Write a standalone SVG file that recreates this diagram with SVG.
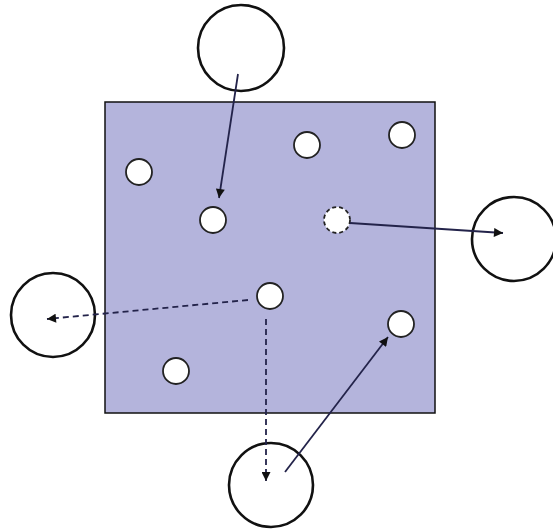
<svg xmlns="http://www.w3.org/2000/svg" width="553" height="529" viewBox="0 0 553 529">
<style>
.big{fill:#fff;stroke:#111;stroke-width:2.6}
.small{fill:#fff;stroke:#222;stroke-width:1.8}
.dash{stroke-dasharray:4,3}
.conn{stroke:#23234a;stroke-width:1.8;fill:none}
.dline{stroke-dasharray:6,4}
</style>
<defs>
<marker id="ah" viewBox="0 0 10 10" refX="10" refY="5" markerWidth="11" markerHeight="9" markerUnits="userSpaceOnUse" orient="auto">
<path d="M0,0 L10,5 L0,10 z" fill="#111"/>
</marker>
</defs>
<rect id="region" x="105" y="102" width="330" height="311" fill="#b4b4dc" stroke="#111" stroke-width="1.5"/>
<g id="node-top"><circle class="big" cx="241" cy="48" r="43"/></g>
<g id="node-right"><circle class="big" cx="514" cy="239" r="42"/></g>
<g id="node-left"><circle class="big" cx="53" cy="315" r="42"/></g>
<g id="node-bottom"><circle class="big" cx="271" cy="485" r="42"/></g>
<g id="p1"><circle class="small" cx="139" cy="172" r="13"/></g>
<g id="p2"><circle class="small" cx="307" cy="145" r="13"/></g>
<g id="p3"><circle class="small" cx="402" cy="135" r="13"/></g>
<g id="p4"><circle class="small" cx="213" cy="220" r="13"/></g>
<g id="p5"><circle class="small dash" cx="337" cy="220" r="13"/></g>
<g id="p6"><circle class="small" cx="270" cy="296" r="13"/></g>
<g id="p7"><circle class="small" cx="401" cy="324" r="13"/></g>
<g id="p8"><circle class="small" cx="176" cy="371" r="13"/></g>
<g id="connectors">
<line class="conn" x1="238" y1="74" x2="219" y2="198" marker-end="url(#ah)"/>
<line class="conn" x1="350" y1="223" x2="503" y2="233" marker-end="url(#ah)"/>
<line class="conn dline" x1="248" y1="300" x2="47" y2="319" marker-end="url(#ah)"/>
<line class="conn dline" x1="266" y1="319" x2="266" y2="481" marker-end="url(#ah)"/>
<line class="conn" x1="285" y1="472" x2="388" y2="337" marker-end="url(#ah)"/>
</g>
</svg>
